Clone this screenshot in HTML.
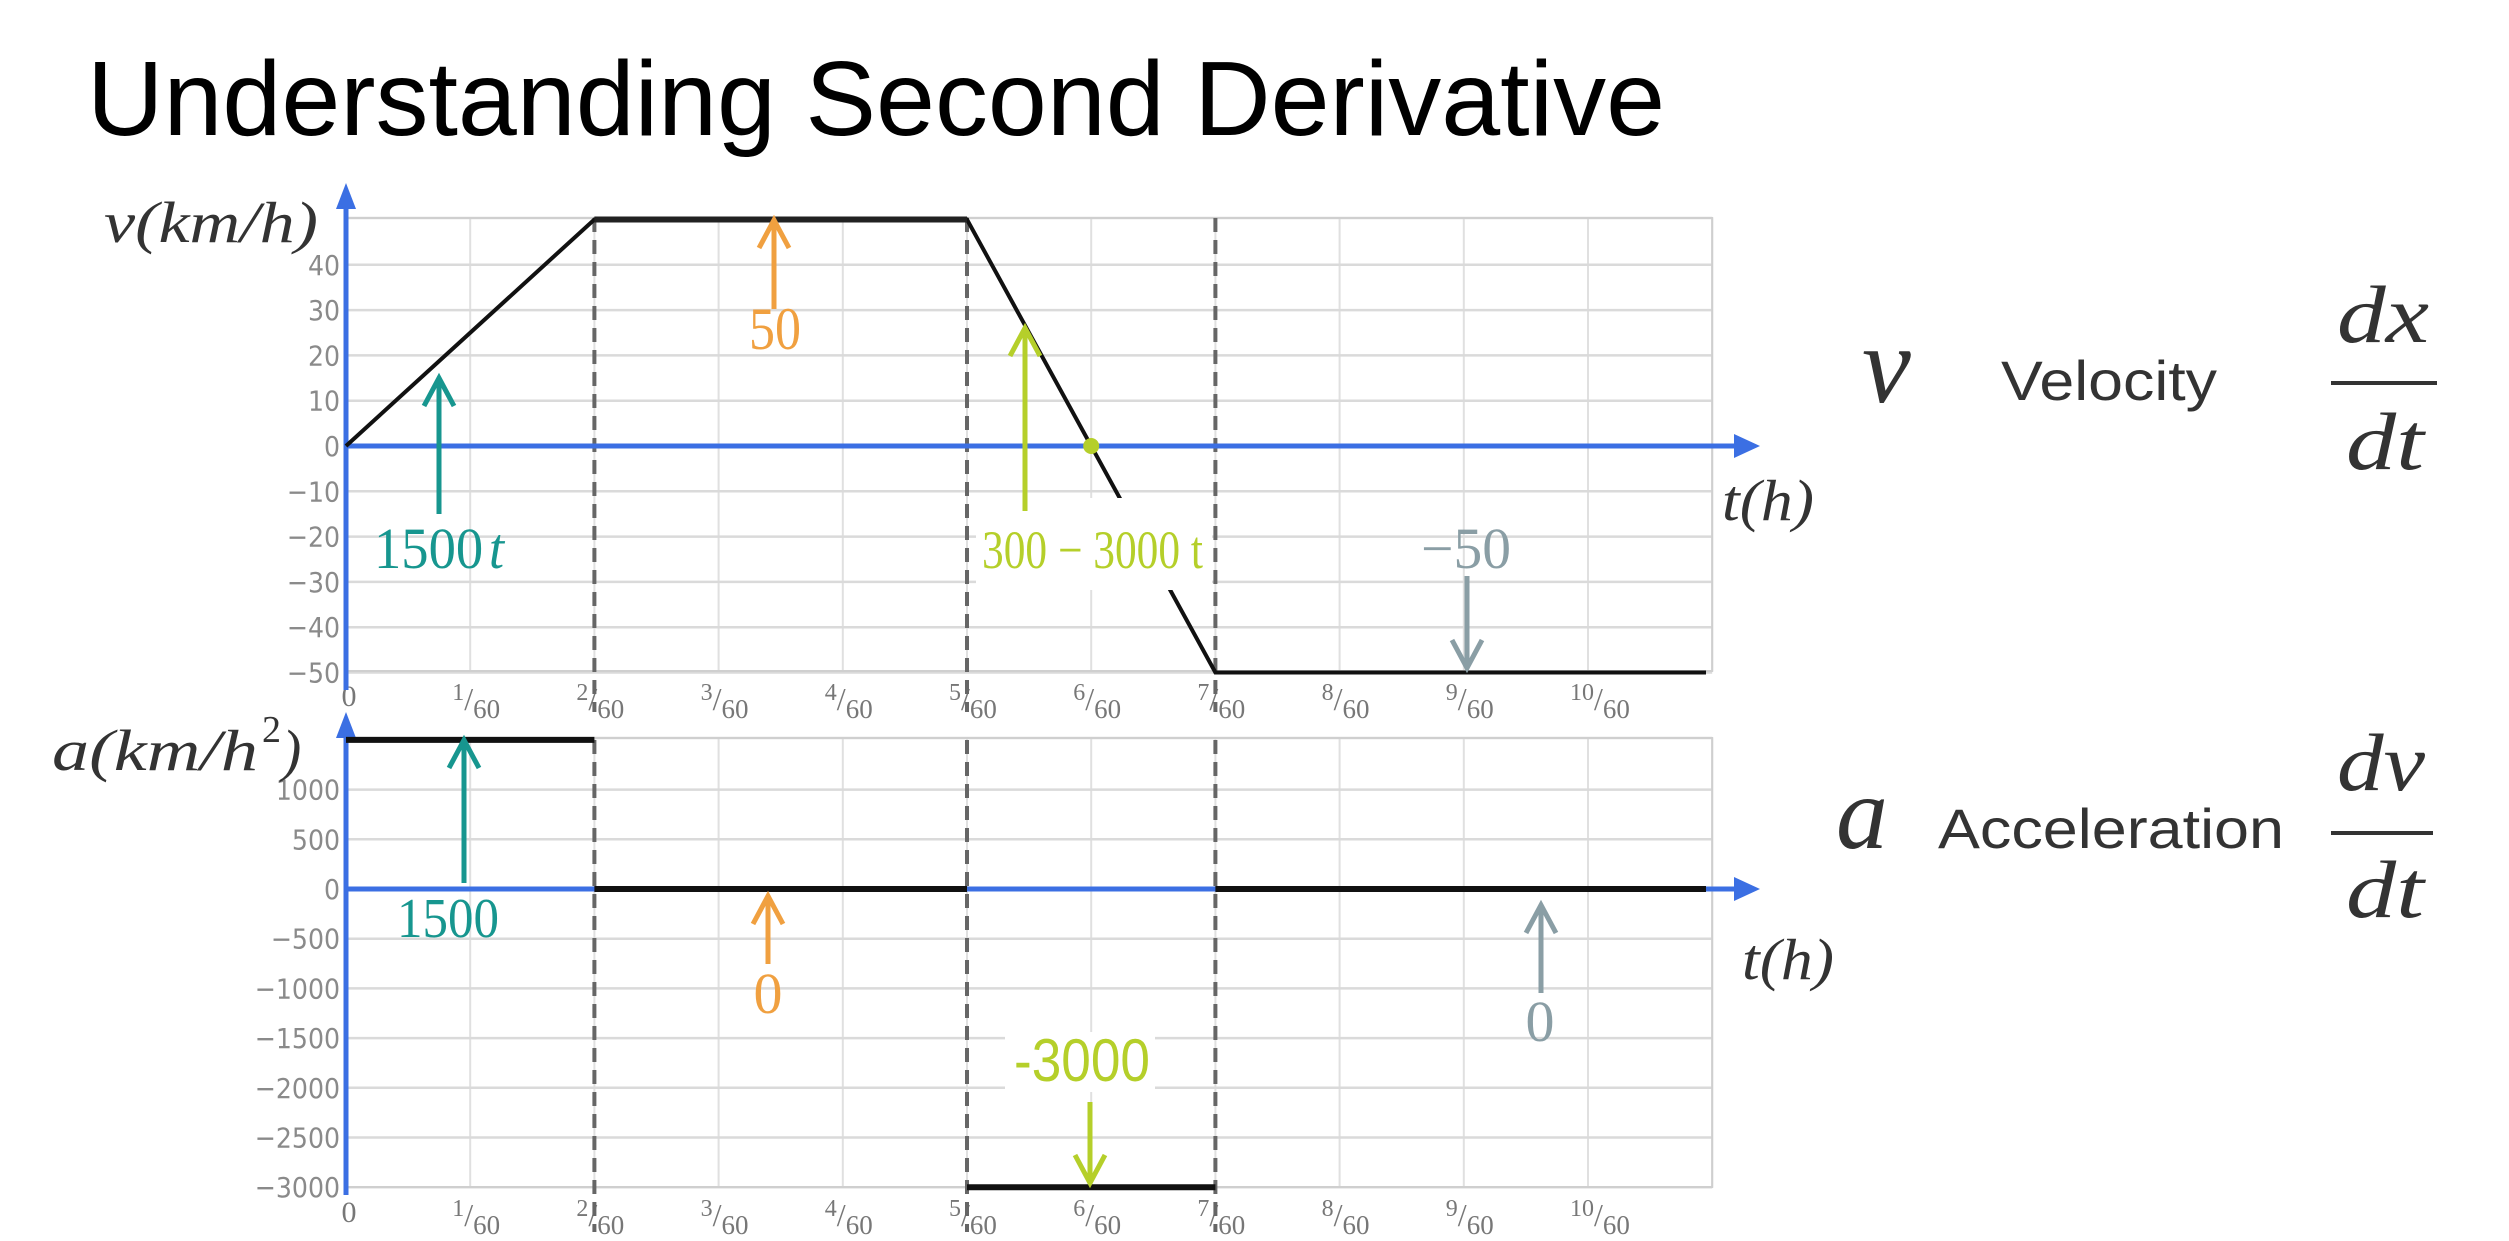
<!DOCTYPE html>
<html><head><meta charset="utf-8">
<style>
html,body{margin:0;padding:0;background:#fff;overflow:hidden;}
svg{display:block;}
.tick{font-family:"DejaVu Sans Condensed","DejaVu Sans","Liberation Sans",sans-serif;font-size:28px;fill:#8a8a8a;}
.frac{font-family:"Liberation Serif",serif;fill:#777;}
.math{font-family:"Liberation Serif",serif;font-style:italic;fill:#333;}
</style></head>
<body>
<svg id="chart" width="2509" height="1241" viewBox="0 0 2509 1241" xmlns="http://www.w3.org/2000/svg">
<text x="87" y="135" font-family="Liberation Sans, sans-serif" font-size="106" fill="#000" textLength="1578" lengthAdjust="spacingAndGlyphs">Understanding Second Derivative</text>
<g id="topG"></g>
<g id="botG"></g>
<g id="side">
<text class="math" x="1862" y="402" font-size="110">v</text>
<text x="2001" y="400" font-family="Liberation Sans, sans-serif" font-size="56" fill="#333" textLength="216" lengthAdjust="spacingAndGlyphs">Velocity</text>
<text class="math" x="2337" y="342" font-size="82" textLength="92" lengthAdjust="spacingAndGlyphs">dx</text>
<line x1="2331" y1="383" x2="2437" y2="383" stroke="#333" stroke-width="4"/>
<text class="math" x="2346" y="469" font-size="82" textLength="78" lengthAdjust="spacingAndGlyphs">dt</text>
<text class="math" x="1836" y="848" font-size="104">a</text>
<text x="1938" y="848" font-family="Liberation Sans, sans-serif" font-size="56" fill="#333" textLength="346" lengthAdjust="spacingAndGlyphs">Acceleration</text>
<text class="math" x="2337" y="790" font-size="82" textLength="88" lengthAdjust="spacingAndGlyphs">dv</text>
<line x1="2331" y1="833" x2="2433" y2="833" stroke="#333" stroke-width="4"/>
<text class="math" x="2346" y="917" font-size="82" textLength="78" lengthAdjust="spacingAndGlyphs">dt</text>
</g>
</svg>
<script>
// ---- data ----
const xTicks = [0,1,2,3,4,5,6,7,8,9,10];
const dashedTimes = [2,5,7];
const vTicks = [40,30,20,10,0,-10,-20,-30,-40,-50];
const vTimes = [0,2,5,7,10.95];
const vValues = [0,50,50,-50,-50];
const aTicks = [1000,500,0,-500,-1000,-1500,-2000,-2500,-3000];
const aSegStart = [0,2,5,7];
const aSegEnd = [2,5,7,10.95];
const aValues = [1500,0,-3000,0];
const vAnnotations = ["1500 t","50","300 \u2212 3000 t","\u221250"];
const aAnnotations = ["1500","0","-3000","0"];

const NS = "http://www.w3.org/2000/svg";
function mk(parent, tag, attrs, txt){
  const e = document.createElementNS(NS, tag);
  for (const k in attrs) e.setAttribute(k, attrs[k]);
  if (txt !== undefined) e.textContent = txt;
  parent.appendChild(e); return e;
}
const X0 = 346, SX = 124.2, XMAX = 11;
const xs = t => X0 + t*SX;
const yv = v => 446 - v*4.53;
const ya = a => 889 - a*0.0994;
const BLUE = "#3b6fe3";

function arrow(g, x, y1, y2, color, name){
  const l = mk(g,"line",{x1:x,y1:y1,x2:x,y2:y2,stroke:color,"stroke-width":5});
  
  
  const d = y2 < y1 ? 1 : -1;
  const h = mk(g,"polyline",{points:`${x-15},${y2+d*28} ${x},${y2} ${x+15},${y2+d*28}`,fill:"none",stroke:color,"stroke-width":5});
  
  
}

function frame(g, yTop, yBot, ticks, yfn, tickY, dashTop, dashBot){
  for (let i=0;i<=XMAX;i++){
    const l = mk(g,"line",{x1:xs(i),y1:yTop,x2:xs(i),y2:yBot,stroke:"#e0e0e0","stroke-width":2});
    
    
  }
  const hs = [yTop].concat(ticks.map(yfn));
  hs.forEach(y=>{
    const l = mk(g,"line",{x1:X0,y1:y,x2:xs(XMAX),y2:y,stroke:"#dadada","stroke-width":2.5});
    
    
  });
  const b = mk(g,"rect",{x:X0,y:yTop,width:xs(XMAX)-X0,height:yBot-yTop,fill:"none",stroke:"#cfcfcf","stroke-width":2});
  
  
  ticks.forEach(v=>{
    const t = mk(g,"text",{x:340,y:yfn(v)+10,"text-anchor":"end",class:"tick"}, v<0? "\u2212"+Math.abs(v) : String(v));
    
    
  });
  xTicks.forEach(k=>{
    let t;
    if (k===0){
      t = mk(g,"text",{x:xs(0)+3,y:tickY-10,"text-anchor":"middle",class:"frac","font-size":30},"0");
    } else {
      t = mk(g,"text",{x:xs(k)-18,y:tickY,class:"frac"});
      mk(t,"tspan",{"font-size":24,dy:-16},String(k));
      mk(t,"tspan",{"font-size":32,dy:10},"/");
      mk(t,"tspan",{"font-size":27,dy:8},"60");
    }
    
    
  });
  dashedTimes.forEach(k=>{
    const l = mk(g,"line",{x1:xs(k),y1:dashTop,x2:xs(k),y2:dashBot,stroke:"#666","stroke-width":4,"stroke-dasharray":"14 8"});
    
    
  });
}

function axes(g, yZero, yArrowTop, yBottom, tY){
  const ya_ = mk(g,"line",{x1:X0,y1:yBottom,x2:X0,y2:yArrowTop+20,stroke:BLUE,"stroke-width":5});
  
  
  const yh = mk(g,"polygon",{points:`${X0-10},${yArrowTop+26} ${X0},${yArrowTop} ${X0+10},${yArrowTop+26}`,fill:BLUE});
  
  
  const xa = mk(g,"line",{x1:X0,y1:yZero,x2:1740,y2:yZero,stroke:BLUE,"stroke-width":5});
  
  
  const xh = mk(g,"polygon",{points:`1734,${yZero-12} 1760,${yZero} 1734,${yZero+12}`,fill:BLUE});
  
  
  const tl = mk(g,"text",{x:tY[0],y:tY[1],class:"math","font-size":58,textLength:92,lengthAdjust:"spacingAndGlyphs"},"t(h)");
  
  
}

// ---- top chart ----
const topG = document.getElementById("topG");
frame(topG, 218, 671, vTicks, yv, 716, 218, 712);
const vTitle = mk(topG,"text",{x:104,y:242,class:"math","font-size":58,textLength:214,lengthAdjust:"spacingAndGlyphs"},"v(km/h)");


axes(topG, yv(0), 183, 690, [1722,520]);
const vPts = vTimes.map((t,i)=>xs(t)+","+yv(vValues[i])).join(" ");
const vl = mk(topG,"polyline",{points:vPts,fill:"none",stroke:"#111","stroke-width":4});


const flat = mk(topG,"line",{x1:xs(vTimes[1]),y1:yv(vValues[1]),x2:xs(vTimes[2]),y2:yv(vValues[2]),stroke:"#222","stroke-width":6});


const tz = vTimes[2] + (vTimes[3]-vTimes[2]) * vValues[2]/(vValues[2]-vValues[3]);
const dot = mk(topG,"circle",{cx:xs(tz),cy:yv(0),r:8,fill:"#b5cf2a"});


const bg = mk(topG,"rect",{x:976,y:498,width:236,height:92,fill:"#fff"});


arrow(topG, 439, 514, 378, "#17968f", "arrow-1500t");
const t1 = mk(topG,"text",{x:374,y:568,"font-family":"Liberation Serif, serif","font-size":58,fill:"#17968f",textLength:130,lengthAdjust:"spacingAndGlyphs"});
mk(t1,"tspan",{},"1500");
mk(t1,"tspan",{"font-style":"italic",dx:6},"t");


arrow(topG, 774, 309, 220, "#f0a040", "arrow-50");
const t2 = mk(topG,"text",{x:775,y:349,"text-anchor":"middle","font-family":"Liberation Serif, serif","font-size":60,fill:"#f0a040",textLength:52,lengthAdjust:"spacingAndGlyphs"},vAnnotations[1]);


arrow(topG, 1025, 511, 328, "#b5cf2a", "arrow-300-3000t");
const t3 = mk(topG,"text",{x:982,y:568,"font-family":"Liberation Serif, serif","font-size":54,fill:"#b5cf2a",textLength:221,lengthAdjust:"spacingAndGlyphs"},vAnnotations[2]);


const t4 = mk(topG,"text",{x:1466,y:568,"text-anchor":"middle","font-family":"Liberation Serif, serif","font-size":58,fill:"#8a9ea5",textLength:90,lengthAdjust:"spacingAndGlyphs"},vAnnotations[3]);


arrow(topG, 1467, 576, 668, "#8a9ea5", "arrow-minus-50");

// ---- bottom chart ----
const botG = document.getElementById("botG");
frame(botG, 738, 1187, aTicks, ya, 1232, 740, 1232);
const aTitle = mk(botG,"text",{x:52,y:770,class:"math","font-size":58,textLength:206,lengthAdjust:"spacingAndGlyphs"},"a(km/h");


const sup = mk(botG,"text",{x:262,y:742,"font-family":"Liberation Serif, serif","font-size":38,fill:"#333"},"2");


const cp = mk(botG,"text",{x:282,y:770,class:"math","font-size":58},")");


axes(botG, ya(0), 712, 1195, [1742,979]);
aValues.forEach((a,i)=>{
  const l = mk(botG,"line",{x1:xs(aSegStart[i]),y1:ya(a),x2:xs(aSegEnd[i]),y2:ya(a),stroke:"#111","stroke-width":6});
  
  
});
arrow(botG, 464, 883, 740, "#17968f", "arrow-a-1500");
const b1 = mk(botG,"text",{x:448,y:937,"text-anchor":"middle","font-family":"Liberation Serif, serif","font-size":56,fill:"#17968f",textLength:102,lengthAdjust:"spacingAndGlyphs"},aAnnotations[0]);


arrow(botG, 768, 964, 896, "#f0a040", "arrow-a-0");
const b2 = mk(botG,"text",{x:768,y:1013,"text-anchor":"middle","font-family":"Liberation Serif, serif","font-size":58,fill:"#f0a040"},aAnnotations[1]);


const bg2 = mk(botG,"rect",{x:1005,y:1032,width:150,height:60,fill:"#fff"});


const b3 = mk(botG,"text",{x:1082,y:1081,"text-anchor":"middle","font-family":"Liberation Sans, sans-serif","font-size":60,fill:"#b5cf2a",textLength:136,lengthAdjust:"spacingAndGlyphs"},aAnnotations[2]);


arrow(botG, 1090, 1102, 1183, "#b5cf2a", "arrow-a-minus-3000");
arrow(botG, 1541, 993, 905, "#8a9ea5", "arrow-a-0-right");
const b4 = mk(botG,"text",{x:1540,y:1041,"text-anchor":"middle","font-family":"Liberation Serif, serif","font-size":58,fill:"#8a9ea5"},aAnnotations[3]);


</script>
</body></html>
